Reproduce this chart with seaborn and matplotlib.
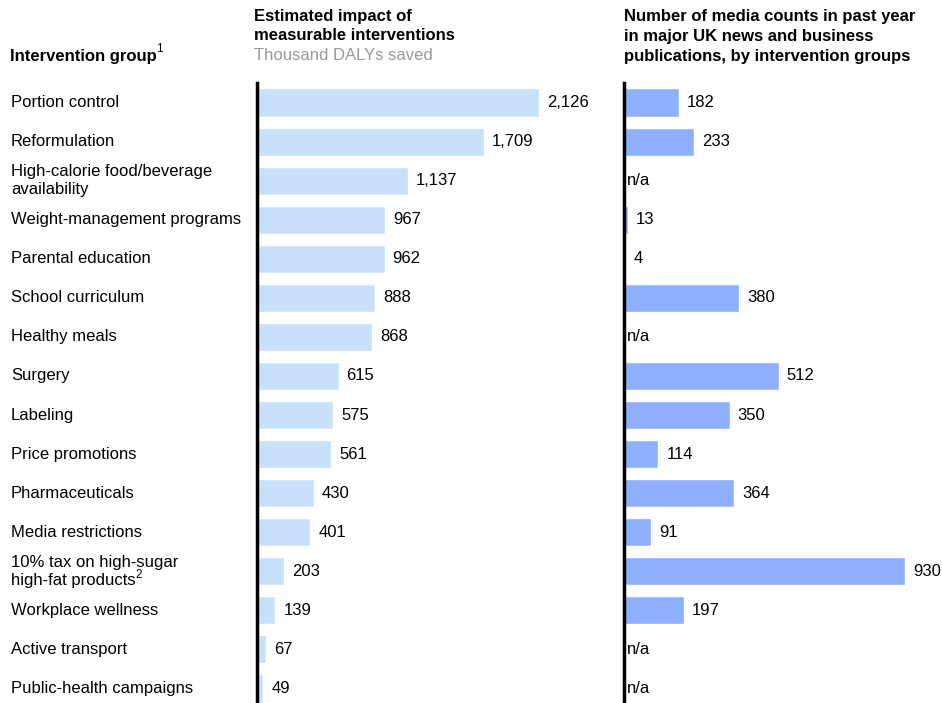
import numpy as np
import pandas as pd
import matplotlib
matplotlib.use("Agg")
import matplotlib.pyplot as plt
import matplotlib.transforms as mtrans
import seaborn as sns

# Data
groups = ["Portion control", "Reformulation", "High-calorie food/beverage\navailability",
          "Weight-management programs", "Parental education", "School curriculum",
          "Healthy meals", "Surgery", "Labeling", "Price promotions", "Pharmaceuticals",
          "Media restrictions", "10% tax on high-sugar\nhigh-fat products",
          "Workplace wellness", "Active transport", "Public-health campaigns"]
footnotes = {12: "2"}
dalys = [2126, 1709, 1137, 967, 962, 888, 868, 615, 575, 561, 430, 401, 203, 139, 67, 49]
media = [182, 233, np.nan, 13, 4, 380, np.nan, 512, 350, 114, 364, 91, 930, 197, np.nan, np.nan]

df = pd.DataFrame({"group": groups, "dalys": dalys, "media": media})

sns.set_style("white")
plt.rcParams["font.family"] = ["Liberation Sans", "DejaVu Sans"]
plt.rcParams["text.color"] = "black"
FS = 12

W, H = 942, 703
fig = plt.figure(figsize=(W / 100, H / 100), dpi=100)

def add_ax(x0, x1):
    return fig.add_axes([x0 / W, -5 / H, (x1 - x0) / W, (703 - 83 + 5) / H])

ax1 = add_ax(257, 597)
ax2 = add_ax(624, 942)

sns.barplot(data=df, y="group", x="dalys", orient="h", color="#C9E0FA",
            width=0.72, saturation=1, ax=ax1)
sns.barplot(data=df, y="group", x="media", orient="h", color="#8FAFFF",
            width=0.72, saturation=1, ax=ax2)

ax1.set_xlim(0, 2126 * 340 / 282)
ax2.set_xlim(0, 930 * 318 / 281)

for ax, col, step in [(ax1, "dalys", 2126 / 282), (ax2, "media", 930 / 281)]:
    ax.set_ylim(15.5, -0.5)
    sns.despine(ax=ax, left=False, bottom=True, top=True, right=True)
    ax.spines["left"].set_linewidth(2.5)
    ax.spines["left"].set_color("black")
    ax.set_xticks([])
    ax.set_yticks([])
    ax.set_xlabel("")
    ax.set_ylabel("")
    ax.patch.set_alpha(0)
    for i, v in enumerate(df[col]):
        if np.isnan(v):
            ax.text(3 * step, i, "n/a", va="center", ha="left", fontsize=FS)
        else:
            ax.text(v + 8 * step, i, f"{int(v):,}", va="center", ha="left", fontsize=FS)

# category labels on the far left, one text per line
trans = mtrans.blended_transform_factory(fig.transFigure, ax1.transData)
half = 9 / 39
for i, g in enumerate(groups):
    lines = g.split("\n")
    offs = [0] if len(lines) == 1 else [-half, half]
    for ln, o in zip(lines, offs):
        t = fig.text(11 / W, i + o, ln, transform=trans, va="center", ha="left", fontsize=FS)
    if i in footnotes:
        ax1.annotate(footnotes[i], xy=(1, 0.45), xycoords=t, xytext=(-0.3, 0),
                     textcoords="offset points", va="bottom", ha="left", fontsize=8.5,
                     annotation_clip=False)

# headers
def ftxt(x, y, s, **kw):
    return fig.text(x / W, 1 - y / H, s, va="center", ha="left", fontsize=FS, **kw)

t = ftxt(10, 56, "Intervention group", fontweight="bold")
ax1.annotate("1", xy=(1, 0.55), xycoords=t, xytext=(-0.3, 0), textcoords="offset points",
             va="bottom", ha="left", fontsize=8.5, annotation_clip=False)
ftxt(254, 16, "Estimated impact of", fontweight="bold")
ftxt(254, 36, "measurable interventions", fontweight="bold")
ftxt(254, 56, "Thousand DALYs saved", color="#999999")
ftxt(624, 16, "Number of media counts in past year", fontweight="bold")
ftxt(624, 36, "in major UK news and business", fontweight="bold")
ftxt(624, 56, "publications, by intervention groups", fontweight="bold")

fig.savefig("out.png", dpi=100)
